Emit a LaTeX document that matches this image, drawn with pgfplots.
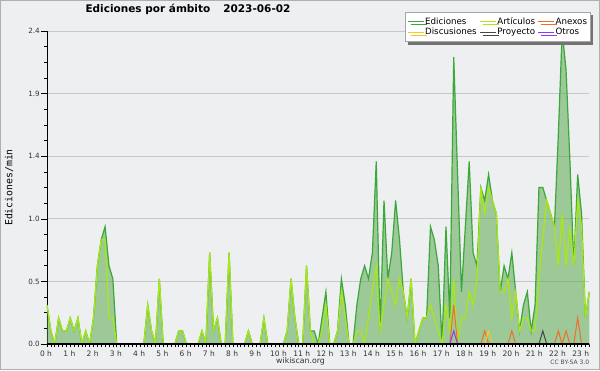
\documentclass[border=0pt]{standalone}
\usepackage{fontspec}
\setmainfont{DejaVu Sans}
\setmonofont{DejaVu Sans Mono}
\usepackage{pgfplots}
\usepackage{pgfplotstable}
\pgfplotsset{compat=1.18}
\usetikzlibrary{shadows}

\definecolor{bgc}{RGB}{238,239,241}
\definecolor{bordc}{RGB}{175,175,175}
\definecolor{gridc}{RGB}{200,200,200}
\definecolor{edfill}{RGB}{78,162,64}
\definecolor{edline}{RGB}{58,168,58}
\definecolor{artline}{RGB}{170,232,20}
\definecolor{anexc}{RGB}{240,110,40}
\definecolor{discc}{RGB}{245,200,40}
\definecolor{proyc}{RGB}{70,70,70}
\definecolor{otrosc}{RGB}{140,60,240}

% slot index i = 10-minute slot (i=1 -> 0:10 ... i=141 -> 23:30)
\pgfplotstableread{
i e a
1 0.3 0.3
2 0.1 0.1
3 0 0
4 0.2 0.2
5 0.1 0.1
6 0.1 0.1
7 0.2 0.2
8 0.1 0.1
9 0.2 0.2
10 0 0
11 0.1 0.1
12 0 0
13 0.2 0.2
14 0.6 0.6
15 0.8 0.8
16 0.9 0.8
17 0.6 0.2
18 0.5 0.2
19 0 0
20 0 0
21 0 0
22 0 0
23 0 0
24 0 0
25 0 0
26 0 0
27 0.3 0.3
28 0.1 0.1
29 0 0
30 0.5 0.5
31 0 0
32 0 0
33 0 0
34 0 0
35 0.1 0.1
36 0.1 0.1
37 0 0
38 0 0
39 0 0
40 0 0
41 0.1 0.1
42 0 0
43 0.7 0.7
44 0.1 0.1
45 0.2 0.2
46 0 0
47 0 0
48 0.7 0.7
49 0 0
50 0 0
51 0 0
52 0 0
53 0.1 0.1
54 0 0
55 0 0
56 0 0
57 0.2 0.2
58 0 0
59 0 0
60 0 0
61 0 0
62 0 0
63 0.1 0.1
64 0.5 0.5
65 0.2 0.2
66 0 0
67 0 0
68 0.6 0.6
69 0.1 0.1
70 0.1 0
71 0 0
72 0.2 0.1
73 0.4 0.3
74 0 0
75 0 0
76 0.1 0.1
77 0.5 0.4
78 0.3 0.2
79 0 0
80 0 0
81 0.3 0.1
82 0.5 0.1
83 0.6 0
84 0.5 0.2
85 0.7 0.4
86 1.4 0.6
87 0.1 0.1
88 1.1 0.3
89 0.5 0.5
90 0.7 0.4
91 1.1 0.3
92 0.8 0.5
93 0.4 0.4
94 0.2 0.2
95 0.5 0.5
96 0 0
97 0.1 0.1
98 0.2 0.2
99 0.2 0.2
100 0.9 0.3
101 0.8 0.2
102 0.6 0.1
103 0 0
104 0.9 0.3
105 0.2 0.1
106 2.2 0.5
107 1.3 0
108 0.4 0.2
109 0.9 0.2
110 1.4 0.4
111 0.7 0.3
112 0.6 0.5
113 1.2 1.2
114 1.1 1.0
115 1.3 1.2
116 1.1 1.1
117 1.0 1.0
118 0.4 0.4
119 0.6 0.4
120 0.5 0.5
121 0.7 0.2
122 0.4 0.4
123 0.1 0.1
124 0.3 0.2
125 0.4 0.2
126 0.1 0.1
127 0.3 0.1
128 1.2 0.5
129 1.2 0.8
130 1.1 1.1
131 1.0 1.0
132 0.9 0.9
133 1.6 0.6
134 2.4 1.0
135 2.1 0.6
136 1.4 0.9
137 0.6 0.6
138 1.3 1.1
139 1.0 0.9
140 0.2 0.2
141 0.4 0.4
}\datatab

% minor series (zero elsewhere)
\pgfplotstableread{
i anex disc proy otros
104 0 0 0 0
105 0 0 0 0
106 0.3 0 0 0.1
107 0 0 0 0
108 0 0 0 0
112 0 0 0 0
113 0 0 0 0
114 0.1 0 0 0
115 0 0.1 0 0
116 0 0 0 0
120 0 0 0 0
121 0.1 0 0 0
122 0 0 0 0
128 0 0 0 0
129 0 0 0.1 0
130 0 0 0 0
132 0 0 0 0
133 0.1 0 0 0
134 0 0 0 0
135 0.1 0 0 0
136 0 0 0 0
137 0 0 0 0
138 0.2 0 0 0
139 0 0 0 0
141 0 0 0 0
}\minortab

\begin{document}
\begin{tikzpicture}[x=1pt,y=1pt]
\path[use as bounding box] (0,0) rectangle (600,370);
\fill[bgc] (0,0) rectangle (600,370);
\draw[bordc, line width=1pt] (0.5,0.5) rectangle (599.5,369.5);
\begin{axis}[
  at={(47pt,26pt)}, anchor=south west, scale only axis,
  width=542.3pt, height=313pt,
  xmin=1, xmax=141, ymin=0, ymax=2.4,
  axis x line*=bottom, axis y line*=left,
  axis line style={black, line width=0.8pt},
  tick align=outside,
  major tick length=6pt, minor tick length=3pt,
  tick style={black, line width=0.6pt},
  xtick={6,12,...,138},
  xticklabels={1 h,2 h,3 h,4 h,5 h,6 h,7 h,8 h,9 h,10 h,11 h,12 h,13 h,14 h,15 h,16 h,17 h,18 h,19 h,20 h,21 h,22 h,23 h},
  extra x ticks={1},
  extra x tick labels={0 h},
  extra x tick style={xticklabel style={xshift=-4pt}},
  minor xtick={1,2,...,141},
  xtick style={/pgfplots/major tick length=3pt},
  ytick={0,0.48,0.96,1.44,1.92,2.4},
  yticklabels={0.0,0.5,1.0,1.4,1.9,2.4},
  minor y tick num=3,
  ymajorgrids,
  grid style={gridc, line width=0.7pt},
  xticklabel style={font=\fontsize{7.5}{8}\selectfont, text=black!80, xshift=3pt, inner sep=1pt},
  yticklabel style={font=\fontsize{7.2}{8}\selectfont, text=black!80, inner sep=1pt},
  /pgf/number format/assume math mode=true,
  title={\textbf{Ediciones por ámbito}\hspace{13pt}\textbf{2023-06-02}},
  title style={at={(axis description cs:0.26,1.0406)}, anchor=base, font=\fontsize{10.5}{12}\selectfont, inner sep=0pt},
  ylabel={Ediciones/min},
  ylabel style={at={(axis description cs:-0.0697,0.5)}, anchor=center, font=\ttfamily\fontsize{9.8}{10}\selectfont, inner sep=0pt},
  xlabel={wikiscan.org},
  xlabel style={at={(axis description cs:0.4675,-0.0543)}, anchor=center, font=\fontsize{7.8}{8}\selectfont, text=black!80, inner sep=0pt},
  legend columns=3,
  legend cell align=left,
  legend image code/.code={\path (0pt,0pt) -- (16pt,0pt); \draw[#1, line width=0.8pt] (0pt,0pt) -- (13pt,0pt);},
  legend style={at={(axis description cs:1.0013,1.0617)}, anchor=north east,
    draw=gray!70, line width=0.5pt, fill=white,
    font=\fontsize{8.7}{9}\selectfont,
    inner xsep=2pt, inner ysep=4.2pt,
    row sep=0pt,
    nodes={inner sep=0.7pt, text height=0.72em, text depth=0.2em},
    /tikz/every even column/.append style={column sep=2pt},
    drop shadow={shadow xshift=3pt, shadow yshift=-3pt, fill=black!55, opacity=1}},
]
\addplot[draw=none, fill=edfill, fill opacity=0.5, forget plot] table[x=i, y=e] {\datatab} \closedcycle;
\addplot[edline, line width=1.2pt] table[x=i, y=e] {\datatab};
\addlegendentry{Ediciones}
\addplot[artline, line width=1.2pt] table[x=i, y=a] {\datatab};
\addlegendentry{Artículos}
\addplot[anexc, line width=1pt] table[x=i, y=anex] {\minortab};
\addlegendentry{Anexos}
\addplot[discc, line width=1pt] table[x=i, y=disc] {\minortab};
\addlegendentry{Discusiones}
\addplot[proyc, line width=1pt] table[x=i, y=proy] {\minortab};
\addlegendentry{Proyecto}
\addplot[otrosc, line width=1pt] table[x=i, y=otros] {\minortab};
\addlegendentry{Otros}
\draw[black, line width=1.3pt] (rel axis cs:0,0) -- (rel axis cs:1,0);
\end{axis}
\node[anchor=east, font=\fontsize{6}{7}\selectfont, text=black!70, inner sep=0pt] at (589.3,7.5) {CC BY-SA 3.0};
\end{tikzpicture}
\end{document}
